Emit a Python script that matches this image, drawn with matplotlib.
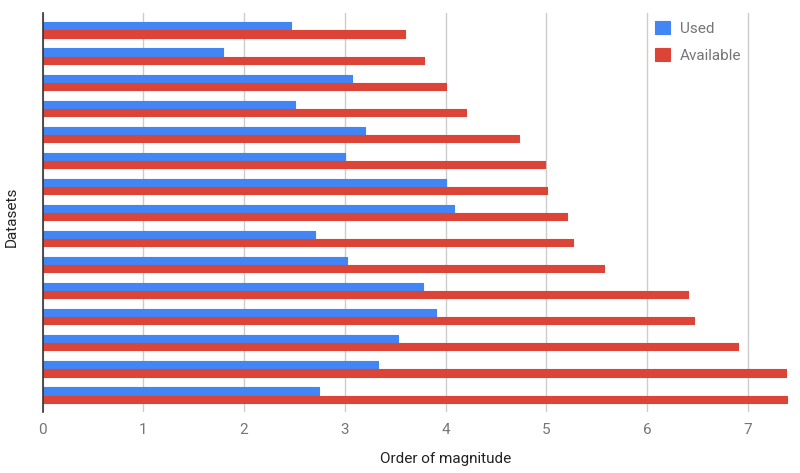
import matplotlib
matplotlib.use("Agg")
import matplotlib.pyplot as plt
import numpy as np

plt.rcParams['font.family'] = ['Roboto', 'DejaVu Sans']

datasets = [f"D{i+1}" for i in range(15)]
used = [2.47, 1.79, 3.07, 2.51, 3.20, 3.00, 4.00, 4.08, 2.70, 3.02, 3.78, 3.91, 3.53, 3.33, 2.74]
available = [3.60, 3.79, 4.00, 4.20, 4.73, 4.99, 5.01, 5.21, 5.27, 5.57, 6.41, 6.47, 6.90, 7.38, 7.39]
xticks = [0, 1, 2, 3, 4, 5, 6, 7]

BLUE = '#4285F4'
RED = '#DB4437'

fig = plt.figure(figsize=(8, 4.73), dpi=100)
ax = fig.add_axes([0.0534, 0.129, 0.934, 0.8435])

y = np.arange(len(datasets))
h = 0.27
ax.barh(y - 0.155, used, height=h, color=BLUE, edgecolor=BLUE, linewidth=0.8,
        joinstyle='round', label='Used', zorder=3)
ax.barh(y + 0.155, available, height=h, color=RED, edgecolor=RED, linewidth=0.8,
        joinstyle='round', label='Available', zorder=3)

ax.set_ylim(len(datasets) - 0.35, -0.65)
ax.set_xlim(0, 7.42)
ax.set_yticks([])
ax.set_xticks(xticks)
ax.set_xticklabels([str(t) for t in xticks])
ax.tick_params(axis='x', length=0, pad=8, labelsize=11, labelcolor='#757575')
ax.grid(axis='x', color='#cccccc', linewidth=1, zorder=0)
for s in ['top', 'right', 'bottom']:
    ax.spines[s].set_visible(False)
ax.spines['left'].set_color('#333333')
ax.spines['left'].set_linewidth(1.2)
ax.spines['left'].set_zorder(4)

ax.set_xlabel('Order of magnitude', fontsize=11, color='#222222')
ax.xaxis.set_label_coords(0.539, -0.10)
ax.set_ylabel('Datasets', fontsize=11, color='#222222')
ax.yaxis.set_label_coords(-0.032, 0.49)

leg = ax.legend(loc='upper left', bbox_to_anchor=(0.82, 0.98), frameon=False,
                borderpad=0, borderaxespad=0,
                fontsize=11, handlelength=0.95, handleheight=0.95, handletextpad=0.65,
                labelspacing=0.8, labelcolor='#757575')

fig.savefig('out.png', dpi=100)
